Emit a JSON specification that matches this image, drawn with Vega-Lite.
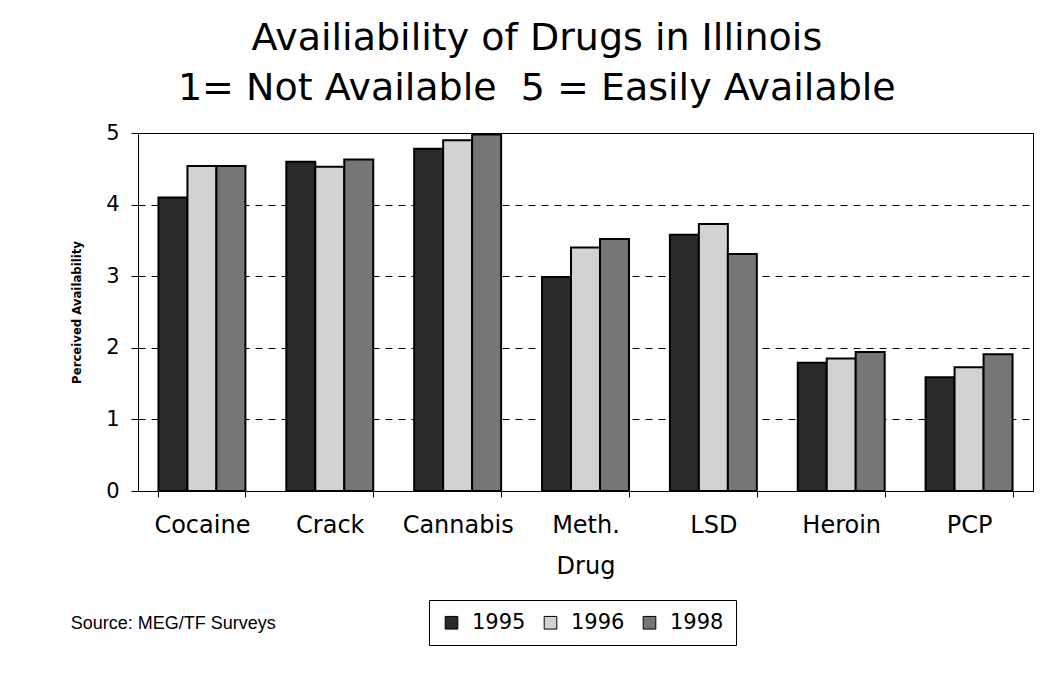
{
  "$schema": "https://vega.github.io/schema/vega-lite/v6.json",
  "background": "white",
  "padding": {"left": 70, "top": 19, "right": 19, "bottom": 20},
  "title": {
    "text": ["Availiability of Drugs in Illinois", "1= Not Available\u00a0\u00a05 = Easily Available"],
    "font": "DejaVu Sans",
    "fontSize": 38,
    "fontWeight": "normal",
    "color": "black",
    "lineHeight": 50,
    "anchor": "middle",
    "dx": -15,
    "offset": 14
  },
  "vconcat": [
    {
      "width": 895,
      "height": 358,
      "title": {
        "text": "Source: MEG/TF Surveys",
        "orient": "bottom",
        "anchor": "start",
        "frame": "bounds",
        "font": "Liberation Sans",
        "fontSize": 18,
        "fontWeight": "normal",
        "color": "black",
        "offset": 37
      },
      "data": {
        "values": [
          {"drug": "Cocaine", "year": "1995", "value": 4.10},
          {"drug": "Cocaine", "year": "1996", "value": 4.54},
          {"drug": "Cocaine", "year": "1998", "value": 4.54},
          {"drug": "Crack", "year": "1995", "value": 4.60},
          {"drug": "Crack", "year": "1996", "value": 4.53},
          {"drug": "Crack", "year": "1998", "value": 4.63},
          {"drug": "Cannabis", "year": "1995", "value": 4.78},
          {"drug": "Cannabis", "year": "1996", "value": 4.90},
          {"drug": "Cannabis", "year": "1998", "value": 4.98},
          {"drug": "Meth.", "year": "1995", "value": 2.99},
          {"drug": "Meth.", "year": "1996", "value": 3.40},
          {"drug": "Meth.", "year": "1998", "value": 3.52},
          {"drug": "LSD", "year": "1995", "value": 3.58},
          {"drug": "LSD", "year": "1996", "value": 3.73},
          {"drug": "LSD", "year": "1998", "value": 3.31},
          {"drug": "Heroin", "year": "1995", "value": 1.79},
          {"drug": "Heroin", "year": "1996", "value": 1.85},
          {"drug": "Heroin", "year": "1998", "value": 1.94},
          {"drug": "PCP", "year": "1995", "value": 1.59},
          {"drug": "PCP", "year": "1996", "value": 1.73},
          {"drug": "PCP", "year": "1998", "value": 1.91}
        ]
      },
      "mark": {"type": "bar", "stroke": "black", "strokeWidth": 2},
      "encoding": {
        "x": {
          "field": "drug",
          "type": "nominal",
          "sort": ["Cocaine", "Crack", "Cannabis", "Meth.", "LSD", "Heroin", "PCP"],
          "scale": {"paddingInner": 0.32, "paddingOuter": 0.16},
          "title": "Drug",
          "axis": {
            "tickBand": "extent",
            "labelAngle": 0,
            "labelFont": "DejaVu Sans",
            "labelFontSize": 24,
            "labelPadding": 16,
            "tickSize": 6,
            "titleFont": "DejaVu Sans",
            "titleFontSize": 24,
            "titleFontWeight": "normal",
            "titlePadding": 17,
            "grid": false
          }
        },
        "xOffset": {
          "field": "year",
          "type": "nominal",
          "scale": {"paddingInner": 0, "paddingOuter": 0}
        },
        "y": {
          "field": "value",
          "type": "quantitative",
          "scale": {"domain": [0, 5], "nice": false},
          "title": "Perceived Availability",
          "axis": {
            "values": [0, 1, 2, 3, 4, 5],
            "grid": true,
            "gridColor": "black",
            "gridDash": [7, 6],
            "gridWidth": 1,
            "gridOpacity": 1,
            "labelFont": "DejaVu Sans",
            "labelFontSize": 21,
            "labelPadding": 12,
            "tickSize": 7,
            "titleFont": "DejaVu Sans Condensed, sans-serif",
            "titleFontSize": 13,
            "titleFontWeight": "bold",
            "titlePadding": 22
          }
        },
        "color": {
          "field": "year",
          "type": "nominal",
          "scale": {"domain": ["1995", "1996", "1998"], "range": ["#2a2a2a", "#d2d2d2", "#767676"]},
          "legend": {
            "title": null,
            "orient": "none",
            "direction": "horizontal",
            "legendX": 291,
            "legendY": 467,
            "strokeColor": "black",
            "fillColor": "white",
            "padding": 12,
            "symbolType": "square",
            "symbolSize": 160,
            "symbolStrokeColor": "black",
            "symbolStrokeWidth": 1,
            "symbolOpacity": 1,
            "labelFont": "DejaVu Sans",
            "labelFontSize": 21,
            "labelColor": "black",
            "labelOffset": 10,
            "columnPadding": 14
          }
        }
      }
    }
  ],
  "config": {
    "view": {"stroke": "black", "strokeWidth": 1},
    "axis": {
      "domainColor": "black",
      "domainWidth": 1,
      "tickColor": "black",
      "labelColor": "black",
      "titleColor": "black"
    }
  }
}
